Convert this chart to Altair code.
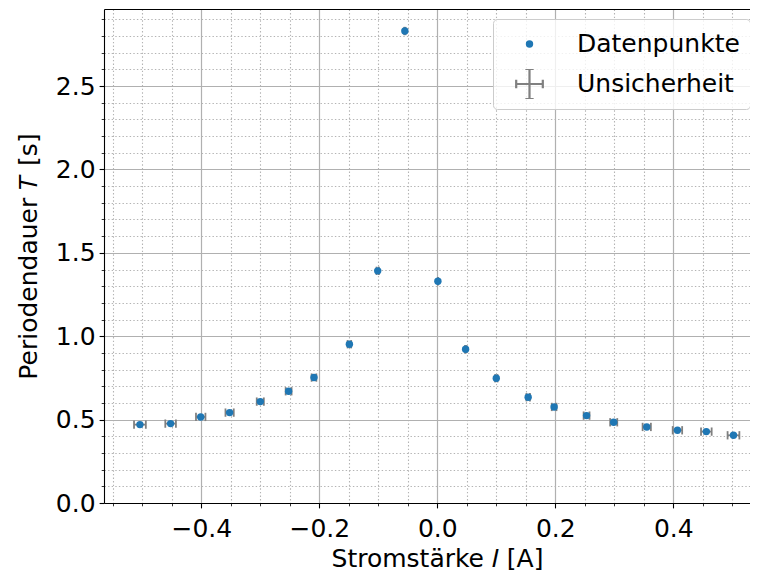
import altair as alt
import pandas as pd

# --- data ---
current = [-0.504, -0.452, -0.401, -0.352, -0.300, -0.252, -0.209, -0.149, -0.101, -0.055,
           0.001, 0.048, 0.100, 0.154, 0.198, 0.253, 0.299, 0.355, 0.407, 0.456, 0.502]
period = [0.470, 0.476, 0.516, 0.542, 0.608, 0.670, 0.752, 0.952, 1.392, 2.830,
          1.330, 0.922, 0.748, 0.634, 0.576, 0.524, 0.484, 0.456, 0.436, 0.428, 0.406]
current_err = [0.010, 0.009, 0.008, 0.007, 0.006, 0.005, 0.004, 0.003, 0.002, 0.001,
               0.000, 0.001, 0.002, 0.003, 0.004, 0.005, 0.006, 0.007, 0.008, 0.009, 0.010]

legend_labels = ["Datenpunkte", "Unsicherheit"]
x_major = [-0.4, -0.2, 0.0, 0.2, 0.4]
x_minor = [-0.55, -0.5, -0.45, -0.35, -0.3, -0.25, -0.15, -0.1, -0.05,
           0.05, 0.1, 0.15, 0.25, 0.3, 0.35, 0.45, 0.5]
y_major = [0.0, 0.5, 1.0, 1.5, 2.0, 2.5]
y_minor = [0.1, 0.2, 0.3, 0.4, 0.6, 0.7, 0.8, 0.9, 1.1, 1.2, 1.3, 1.4, 1.6, 1.7, 1.8, 1.9,
           2.1, 2.2, 2.3, 2.4, 2.6, 2.7, 2.8, 2.9]

x_title = "Stromstärke 𝐼 [A]"
y_title = "Periodendauer 𝑇 [s]"

df = pd.DataFrame({"I": current, "T": period, "dI": current_err})
df["I_lo"] = df["I"] - df["dI"]
df["I_hi"] = df["I"] + df["dI"]
df["series"] = legend_labels[0]

FONT = "DejaVu Sans"
FS = 25
GRAY = "#b0b0b0"
MINOR = "#b4b4b4"
ERR = "#808080"
BLUE = "#1f77b4"

# plot area: 646 px wide (the reference's right spine lies outside the picture)
xs = alt.Scale(domain=[-0.5649, 0.5300], nice=False, zero=False)
ys = alt.Scale(domain=[0, 2.962], nice=False, zero=False)

# errorbar legend glyph (filled thin rectangles so it renders with fill only)
cross_path = (
    "M-3.59,-0.3H3.59V0.3H-3.59Z"
    "M-0.3,-4.05H0.3V4.05H-0.3Z"
    "M-3.89,-1.12H-3.29V1.12H-3.89Z"
    "M3.29,-1.12H3.89V1.12H3.29Z"
    "M-1.12,-4.35H1.12V-3.75H-1.12Z"
    "M-1.12,3.75H1.12V4.35H-1.12Z"
)

base = alt.Chart(df)

minor = base.mark_point(opacity=0).encode(
    x=alt.X("I:Q", scale=xs, axis=alt.Axis(
        orient="bottom", values=x_minor, labels=False, domain=False,
        tickSize=2.8, tickWidth=0.8, grid=True, gridDash=[1.4, 2.2],
        gridColor=MINOR, gridWidth=1.1, title=None)),
    y=alt.Y("T:Q", scale=ys, axis=alt.Axis(
        orient="left", values=y_minor, labels=False, domain=False,
        tickSize=2.8, tickWidth=0.8, grid=True, gridDash=[1.4, 2.2],
        gridColor=MINOR, gridWidth=1.1, title=None)),
)

major = base.mark_rule(color=ERR, strokeWidth=1.8).encode(
    x=alt.X("I_lo:Q", scale=xs, axis=alt.Axis(
        orient="bottom", values=x_major,
        labelExpr="replace(format(datum.value, '.1f'), '-', '\u2212')",
        tickSize=4.9, tickWidth=1.1, grid=True, gridColor=GRAY, gridWidth=1.2,
        domain=True, domainWidth=1.1, labelFontSize=FS, labelPadding=9,
        labelFlush=False, labelOverlap=False,
        title=x_title, titleFontSize=FS, titlePadding=5, titleX=333)),
    x2="I_hi:Q",
    y=alt.Y("T:Q", scale=ys, axis=alt.Axis(
        orient="left", values=y_major, format=".1f",
        tickSize=4.9, tickWidth=1.1, grid=True, gridColor=GRAY, gridWidth=1.2,
        domain=True, domainWidth=1.1, labelFontSize=FS, labelPadding=4,
        labelFlush=False, labelOverlap=False,
        title=y_title, titleFontSize=FS, titlePadding=14)),
)

caps_lo = base.mark_tick(orient="vertical", size=8.3, thickness=1.8, color=ERR, opacity=1).encode(
    x=alt.X("I_lo:Q", scale=xs, axis=None),
    y=alt.Y("T:Q", scale=ys, axis=None),
)
caps_hi = base.mark_tick(orient="vertical", size=8.3, thickness=1.8, color=ERR, opacity=1).encode(
    x=alt.X("I_hi:Q", scale=xs, axis=None),
    y=alt.Y("T:Q", scale=ys, axis=None),
)

spines = base.mark_point(opacity=0).encode(
    x=alt.X("I:Q", scale=xs, axis=alt.Axis(
        orient="top", labels=False, ticks=False, grid=False, domain=True,
        domainWidth=1.1, title=None)),
    y=alt.Y("T:Q", scale=ys, axis=None),
)

leg = alt.Legend(
    orient="none", legendX=389, legendY=10,
    fillColor="rgba(255,255,255,0.8)", strokeColor="#cccccc",
    cornerRadius=4, padding=10,
    labelFont=FONT, labelFontSize=FS, labelColor="black", labelLimit=400,
    symbolSize=55, symbolStrokeWidth=0, symbolOpacity=1,
    symbolOffset=14, labelOffset=35, clipHeight=30, rowPadding=10,
)

points = base.mark_point(filled=True, size=55, opacity=1).encode(
    x=alt.X("I:Q", scale=xs, axis=None),
    y=alt.Y("T:Q", scale=ys, axis=None),
    color=alt.Color("series:N", title=None,
                    scale=alt.Scale(domain=legend_labels, range=[BLUE, ERR]),
                    legend=leg),
    shape=alt.Shape("series:N", title=None,
                    scale=alt.Scale(domain=legend_labels, range=["circle", cross_path]),
                    legend=leg),
)

chart = (
    alt.layer(minor, major, caps_lo, caps_hi, spines, points)
    .resolve_axis(x="independent", y="independent")
    .properties(
        width=646, height=494,
        autosize=alt.AutoSizeParams(type="none"),
        padding={"left": 96, "top": 1, "right": 0, "bottom": 76},
    )
    .configure_view(stroke=None)
    .configure_axis(
        labelFont=FONT, titleFont=FONT, labelColor="black", titleColor="black",
        titleFontWeight="normal", tickColor="black", domainColor="black",
    )
)

chart.save("out.html", embed_options={"renderer": "svg", "actions": False})
